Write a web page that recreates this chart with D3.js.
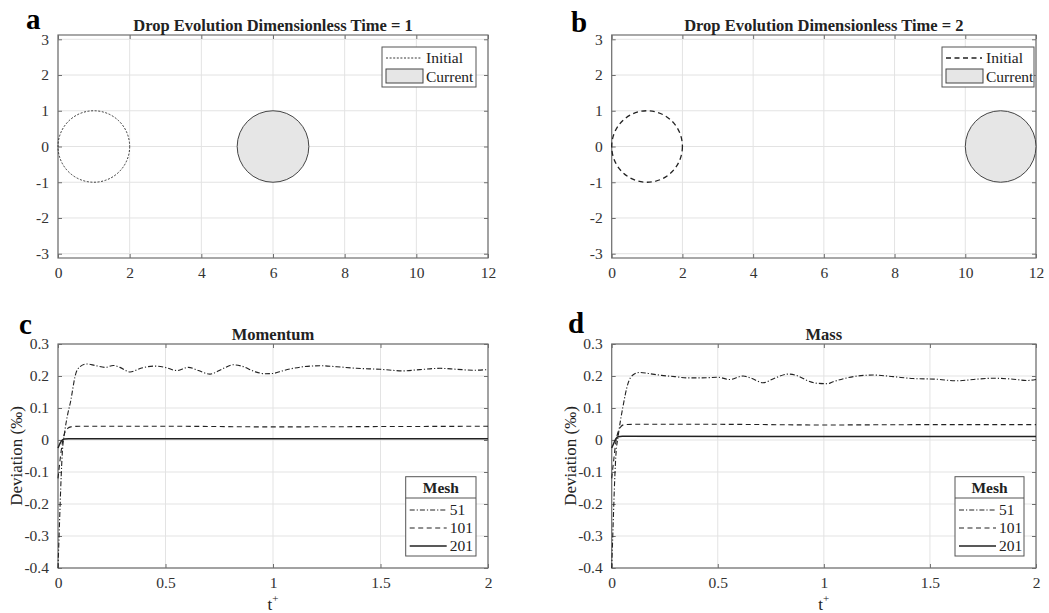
<!DOCTYPE html>
<html>
<head>
<meta charset="utf-8">
<script src="https://cdn.jsdelivr.net/npm/d3@7"></script>
<style>
  body { margin: 0; background: #fff; }
  svg text { font-family: "Liberation Serif", "Times New Roman", serif !important; }
  .domain { display: none; }
</style>
</head>
<body>
<div id="chart"></div>
<script>
// drop panels (a, b)
var dropTimes = [1, 2]
var dropXTicks = [0, 2, 4, 6, 8, 10, 12]
var dropYTicks = [-3, -2, -1, 0, 1, 2, 3]
var initialCenter = [1, 0]
var dropRadius = 1
var currentCenterX = [6, 11]

// deviation panels (c, d): [t+, deviation in permille]
var devXTicks = [0, 0.5, 1, 1.5, 2]
var devYTicks = [-0.4, -0.3, -0.2, -0.1, 0, 0.1, 0.2, 0.3]
var meshes = ["51", "101", "201"]

var momentum51 = [[0,-0.4],[0.005,-0.3],[0.01,-0.2],[0.015,-0.11],[0.02,-0.04],[0.03,0.02],[0.045,0.08],
  [0.06,0.125],[0.07,0.165],[0.079,0.198],[0.1,0.228],[0.133,0.2375],[0.172,0.233],[0.219,0.227],
  [0.257,0.233],[0.288,0.227],[0.335,0.2125],[0.389,0.225],[0.451,0.231],[0.498,0.227],[0.552,0.217],
  [0.606,0.227],[0.653,0.217],[0.707,0.206],[0.761,0.221],[0.815,0.235],[0.854,0.231],[0.916,0.2135],
  [0.963,0.207],[1.0,0.208],[1.048,0.217],[1.141,0.229],[1.219,0.232],[1.296,0.229],[1.389,0.224],
  [1.498,0.221],[1.605,0.216],[1.683,0.22],[1.777,0.224],[1.854,0.221],[1.932,0.218],[2.0,0.22]]
var momentum101 = [[0,-0.12],[0.01,-0.06],[0.02,-0.01],[0.03,0.02],[0.045,0.036],[0.06,0.041],
  [0.1,0.043],[0.5,0.043],[1.0,0.041],[1.5,0.042],[2.0,0.043]]
var momentum201 = [[0,-0.025],[0.01,-0.01],[0.02,0.0],[0.03,0.003],[0.05,0.004],[1.0,0.004],[2.0,0.004]]

var mass51 = [[0,-0.4],[0.005,-0.3],[0.01,-0.2],[0.015,-0.11],[0.02,-0.045],[0.03,0.01],[0.053,0.104],
  [0.077,0.177],[0.1,0.203],[0.132,0.211],[0.171,0.208],[0.234,0.202],[0.297,0.198],[0.36,0.194],
  [0.422,0.194],[0.501,0.196],[0.556,0.189],[0.619,0.2],[0.658,0.193],[0.713,0.179],[0.768,0.193],
  [0.831,0.206],[0.878,0.2],[0.925,0.185],[0.972,0.177],[1.019,0.176],[1.044,0.182],[1.139,0.198],
  [1.233,0.203],[1.327,0.198],[1.421,0.192],[1.531,0.19],[1.626,0.185],[1.72,0.19],[1.799,0.193],
  [1.893,0.19],[1.955,0.186],[2.0,0.189]]
var mass101 = [[0,-0.12],[0.01,-0.06],[0.02,-0.005],[0.03,0.025],[0.045,0.043],[0.06,0.048],
  [0.1,0.049],[0.5,0.049],[1.0,0.047],[1.5,0.048],[2.0,0.048]]
var mass201 = [[0,-0.025],[0.01,-0.01],[0.02,0.004],[0.03,0.01],[0.05,0.012],[1.0,0.011],[2.0,0.011]]

var W = 1049, H = 613
var svg = d3.select("#chart").append("svg").attr("width", W).attr("height", H)
  .attr("font-family", "Liberation Serif, serif")

var gridColor = "#e3e3e3", boxColor = "#6e6e6e", ink = "#222"

function fmt(d) { return String(+d.toFixed(1)) }

function frame(p) {
  var x = d3.scaleLinear().domain(p.xDomain).range([p.left, p.right])
  var y = d3.scaleLinear().domain(p.yDomain).range([p.bottom, p.top])
  var g = svg.append("g")

  // grid
  g.selectAll(".gx").data(p.xTicks).enter().append("line")
   .attr("x1", d => x(d)).attr("x2", d => x(d)).attr("y1", p.top).attr("y2", p.bottom)
   .attr("stroke", gridColor)
  g.selectAll(".gy").data(p.yTicks).enter().append("line")
   .attr("y1", d => y(d)).attr("y2", d => y(d)).attr("x1", p.left).attr("x2", p.right)
   .attr("stroke", gridColor)

  // axes with inward ticks on all four sides
  var ax = function(sel) {
    sel.attr("font-family", "Liberation Serif, serif").attr("font-size", 15.5)
    sel.selectAll("line").attr("stroke", boxColor)
    sel.selectAll("text").attr("fill", "#333")
  }
  g.append("g").attr("transform", `translate(0,${p.bottom})`)
   .call(d3.axisBottom(x).tickValues(p.xTicks).tickSize(-4).tickPadding(9).tickFormat(fmt)).call(ax)
  g.append("g").attr("transform", `translate(${p.left},0)`)
   .call(d3.axisLeft(y).tickValues(p.yTicks).tickSize(-4).tickPadding(9).tickFormat(fmt)).call(ax)
  g.append("g").attr("transform", `translate(0,${p.top})`)
   .call(d3.axisTop(x).tickValues(p.xTicks).tickSize(-4).tickFormat("")).call(ax)
  g.append("g").attr("transform", `translate(${p.right},0)`)
   .call(d3.axisRight(y).tickValues(p.yTicks).tickSize(-4).tickFormat("")).call(ax)

  g.append("rect").attr("x", p.left).attr("y", p.top)
   .attr("width", p.right - p.left).attr("height", p.bottom - p.top)
   .attr("fill", "none").attr("stroke", boxColor).attr("stroke-width", 1.2)

  g.append("text").attr("x", (p.left + p.right) / 2).attr("y", p.top - 4)
   .attr("text-anchor", "middle").attr("font-weight", "bold").attr("font-size", 16.5)
   .attr("fill", ink).text(p.title)

  g.append("text").attr("x", p.lx).attr("y", p.ly)
   .attr("font-weight", "bold").attr("font-size", 29).attr("fill", "#000").text(p.letter)

  return {x: x, y: y, g: g}
}

// ---- panels a and b ----
var dropPanels = [
  {left: 58, right: 488, letter: "a", lx: 26, ly: 29, dash: "2,1.6", sw: 0.9},
  {left: 611.7, right: 1036, letter: "b", lx: 571, ly: 32, dash: "5,3.5", sw: 1.3}
]

dropPanels.forEach(function(dp, i) {
  var p = Object.assign({top: 35, bottom: 258, xDomain: [0, 12], yDomain: [-3.12, 3.12],
    xTicks: dropXTicks, yTicks: dropYTicks,
    title: "Drop Evolution Dimensionless Time = " + dropTimes[i]}, dp)
  var f = frame(p)
  var rx = f.x(dropRadius) - f.x(0), ry = f.y(0) - f.y(dropRadius)

  f.g.append("ellipse").attr("cx", f.x(initialCenter[0])).attr("cy", f.y(initialCenter[1]))
   .attr("rx", rx).attr("ry", ry).attr("fill", "none")
   .attr("stroke", ink).attr("stroke-width", dp.sw).attr("stroke-dasharray", dp.dash)
  f.g.append("ellipse").attr("cx", f.x(currentCenterX[i])).attr("cy", f.y(0))
   .attr("rx", rx).attr("ry", ry).attr("fill", "#e6e6e6")
   .attr("stroke", "#444").attr("stroke-width", 1)

  // legend
  var lx0 = p.right - 106 + (i ? 12 : 0), lw = i ? 92 : 94
  var lg = f.g.append("g")
  lg.append("rect").attr("x", lx0).attr("y", 47).attr("width", lw).attr("height", 40)
    .attr("fill", "#fff").attr("stroke", "#555")
  lg.append("line").attr("x1", lx0 + 4).attr("x2", lx0 + 40).attr("y1", 58).attr("y2", 58)
    .attr("stroke", ink).attr("stroke-width", dp.sw).attr("stroke-dasharray", dp.dash)
  lg.append("rect").attr("x", lx0 + 4).attr("y", 69).attr("width", 37).attr("height", 14)
    .attr("fill", "#e6e6e6").attr("stroke", "#444")
  lg.append("text").attr("x", lx0 + 44).attr("y", 63).attr("font-size", 15.5).attr("fill", ink).text("Initial")
  lg.append("text").attr("x", lx0 + 44).attr("y", 82).attr("font-size", 15.5).attr("fill", ink).text("Current")
})

// ---- panels c and d ----
var styles = [
  {dash: "5,2,1.2,2", sw: 1.1},
  {dash: "5,3.5", sw: 1.1},
  {dash: null, sw: 1.5}
]
var devPanels = [
  {left: 58, right: 488, letter: "c", lx: 19, ly: 334, title: "Momentum", series: [momentum51, momentum101, momentum201], yl: 17},
  {left: 611.7, right: 1036, letter: "d", lx: 568, ly: 333, title: "Mass", series: [mass51, mass101, mass201], yl: 571}
]

devPanels.forEach(function(dp, i) {
  var p = Object.assign({top: 344, bottom: 568, xDomain: [0, 2], yDomain: [-0.4, 0.3],
    xTicks: devXTicks, yTicks: devYTicks}, dp)
  var f = frame(p)
  var line = d3.line().x(d => f.x(d[0])).y(d => f.y(d[1])).curve(d3.curveMonotoneX)

  dp.series.forEach(function(s, k) {
    f.g.append("path").datum(s).attr("d", line).attr("fill", "none")
     .attr("stroke", ink).attr("stroke-width", styles[k].sw)
     .attr("stroke-dasharray", styles[k].dash)
  })

  // axis labels
  var tl = f.g.append("text").attr("x", (p.left + p.right) / 2).attr("y", 610)
    .attr("text-anchor", "middle").attr("font-size", 17).attr("fill", ink)
  tl.append("tspan").text("t")
  tl.append("tspan").attr("dy", -8).attr("font-size", 11).text("+")
  f.g.append("text").attr("transform", `translate(${dp.yl + 5},456) rotate(-90)`)
   .attr("text-anchor", "middle").attr("font-size", 17).attr("fill", ink).text("Deviation (‰)")

  // legend
  var lx0 = i ? 955 : 405.7, lw = i ? 69 : 70.3
  var lg = f.g.append("g")
  lg.append("rect").attr("x", lx0).attr("y", 476.7).attr("width", lw).attr("height", 79.3)
    .attr("fill", "#fff").attr("stroke", "#555")
  lg.append("line").attr("x1", lx0).attr("x2", lx0 + lw).attr("y1", 498).attr("y2", 498).attr("stroke", "#555")
  lg.append("text").attr("x", lx0 + lw / 2).attr("y", 493).attr("text-anchor", "middle")
    .attr("font-weight", "bold").attr("font-size", 15.5).attr("fill", ink).text("Mesh")
  meshes.forEach(function(m, k) {
    var yy = 510 + k * 18
    lg.append("line").attr("x1", lx0 + 4).attr("x2", lx0 + 41).attr("y1", yy).attr("y2", yy)
      .attr("stroke", ink).attr("stroke-width", styles[k].sw).attr("stroke-dasharray", styles[k].dash)
    lg.append("text").attr("x", lx0 + 44).attr("y", yy + 5).attr("font-size", 15.5).attr("fill", ink).text(m)
  })
})
</script>
</body>
</html>
